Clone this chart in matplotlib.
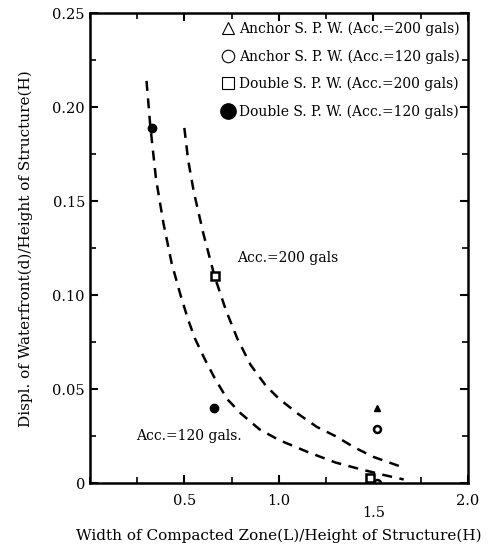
import matplotlib
matplotlib.use("Agg")
import matplotlib.pyplot as plt
from matplotlib.lines import Line2D
from matplotlib.ticker import MultipleLocator

plt.rcParams['font.family'] = ['DejaVu Serif']

# dashed curves
acc200_x = [0.50, 0.52, 0.55, 0.60, 0.66, 0.72, 0.78, 0.85, 0.93, 1.00, 1.10, 1.20, 1.30, 1.40, 1.50, 1.64]
acc200_y = [0.189, 0.172, 0.155, 0.133, 0.110, 0.092, 0.077, 0.063, 0.052, 0.045, 0.037, 0.030, 0.025, 0.019, 0.014, 0.009]
acc120_x = [0.30, 0.32, 0.35, 0.39, 0.433, 0.48, 0.52, 0.556, 0.608, 0.66, 0.727, 0.80, 0.897, 1.00, 1.155, 1.30, 1.433, 1.55, 1.66]
acc120_y = [0.214, 0.19, 0.162, 0.138, 0.117, 0.100, 0.087, 0.077, 0.066, 0.056, 0.0447, 0.037, 0.0287, 0.023, 0.0165, 0.011, 0.0074, 0.0045, 0.002]

# measured points
anchor200_x = [1.52]
anchor200_y = [0.040]
anchor120_x = [1.52, 1.52]
anchor120_y = [0.029, 0.0]
double200_x = [0.66, 1.48]
double200_y = [0.110, 0.003]
double120_x = [0.33, 0.655]
double120_y = [0.189, 0.040]

legend_labels = ['Anchor S. P. W. (Acc.=200 gals)',
                 'Anchor S. P. W. (Acc.=120 gals)',
                 'Double S. P. W. (Acc.=200 gals)',
                 'Double S. P. W. (Acc.=120 gals)']

fig = plt.figure(figsize=(4.88, 5.51), dpi=100)
ax = fig.add_axes([0.184, 0.123, 0.775, 0.853])

ax.plot(acc200_x, acc200_y, ls=(0, (4, 3)), c='k', lw=1.8)
ax.plot(acc120_x, acc120_y, ls=(0, (4, 3)), c='k', lw=1.8)

ax.plot(anchor200_x, anchor200_y, '^', ms=5, mfc='k', mec='k', ls='none')
ax.plot(anchor120_x, anchor120_y, 'o', ms=5, mfc='white', mec='k', mew=1.8, ls='none')
ax.plot(double200_x, double200_y, 's', ms=6, mfc='white', mec='k', mew=1.8, ls='none')
ax.plot(double120_x, double120_y, 'o', ms=6, mfc='k', mec='k', ls='none')

ax.text(0.78, 0.120, 'Acc.=200 gals', fontsize=10, va='center', ha='left')
ax.text(0.247, 0.025, 'Acc.=120 gals.', fontsize=10, va='center', ha='left')

handles = [Line2D([], [], marker='^', ms=8, mfc='white', mec='k', mew=0.8, ls='none'),
           Line2D([], [], marker='o', ms=9, mfc='white', mec='k', mew=0.8, ls='none'),
           Line2D([], [], marker='s', ms=9, mfc='white', mec='k', mew=0.8, ls='none'),
           Line2D([], [], marker='o', ms=11, mfc='k', mec='k', ls='none')]
ax.legend(handles, legend_labels, loc='upper right', frameon=False, fontsize=10,
          handlelength=0.8, handletextpad=0.4, labelspacing=0.95,
          borderaxespad=0.3, borderpad=0.3)

ax.set_xlim(0, 2.0)
ax.set_ylim(0, 0.25)
ax.xaxis.set_minor_locator(MultipleLocator(0.25))
ax.yaxis.set_minor_locator(MultipleLocator(0.025))
ax.set_xticks([0.5, 1.0, 1.5, 2.0])
ax.set_xticklabels(['0.5', '1.0', '1.5', '2.0'])
ax.set_yticks([0, 0.05, 0.10, 0.15, 0.20, 0.25])
ax.set_yticklabels(['0', '0.05', '0.10', '0.15', '0.20', '0.25'])
ax.tick_params(which='both', direction='in', top=True, right=True, labelsize=10.5)
ax.tick_params(which='major', length=6, width=1.5)
ax.tick_params(which='minor', length=4, width=1.2)
ax.tick_params(axis='x', pad=8)
for lbl in ax.get_xticklabels():
    if lbl.get_text() == '1.5':
        lbl.set_y(-0.025)
for s in ax.spines.values():
    s.set_linewidth(1.8)

ax.set_xlabel('Width of Compacted Zone(L)/Height of Structure(H)', fontsize=11, labelpad=6)
ax.set_ylabel('Displ. of Waterfront(d)/Height of Structure(H)', fontsize=11, labelpad=14)

fig.savefig('out.png', dpi=100)
